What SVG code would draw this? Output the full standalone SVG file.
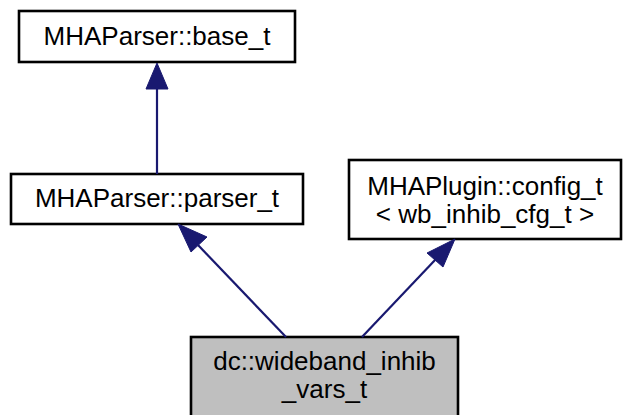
<svg xmlns="http://www.w3.org/2000/svg" width="623" height="415" viewBox="0 0 623 415">
<style>
.box{fill:#ffffff;stroke:#000000;stroke-width:2.6}
.cur{fill:#bfbfbf;stroke:#000000;stroke-width:2.6}
.lbl{font-family:"Liberation Sans",Arial,Helvetica,sans-serif;font-size:26px;fill:#000000;text-anchor:middle}
.edge{stroke:#191970;stroke-width:2.2;fill:none}
.head{fill:#191970;stroke:#191970;stroke-width:1}
</style>
<rect width="623" height="415" fill="#ffffff"/>
<g id="node-base">
<rect class="box" x="19" y="11" width="276" height="51"/>
<text class="lbl" x="157" y="45">MHAParser::base_t</text>
</g>
<g id="node-parser">
<rect class="box" x="11" y="174" width="292" height="50"/>
<text class="lbl" x="157" y="207">MHAParser::parser_t</text>
</g>
<g id="node-config">
<rect class="box" x="349" y="160" width="272" height="79"/>
<text class="lbl" x="485" y="195">MHAPlugin::config_t</text>
<text class="lbl" x="485" y="223">&lt; wb_inhib_cfg_t &gt;</text>
</g>
<g id="node-current">
<rect class="cur" x="191" y="337" width="267" height="85"/>
<text class="lbl" x="324.5" y="370">dc::wideband_inhib</text>
<text class="lbl" x="324.5" y="398">_vars_t</text>
</g>
<g id="connectors">
<line class="edge" x1="157" y1="174" x2="157" y2="88"/>
<polygon class="head" points="157,63 146,89 168,89"/>
<line class="edge" x1="286" y1="337" x2="198" y2="245"/>
<polygon class="head" points="178,224 191,252 207,237"/>
<line class="edge" x1="362" y1="337" x2="436" y2="259"/>
<polygon class="head" points="455,239 427,253 443,267"/>
</g>
</svg>
